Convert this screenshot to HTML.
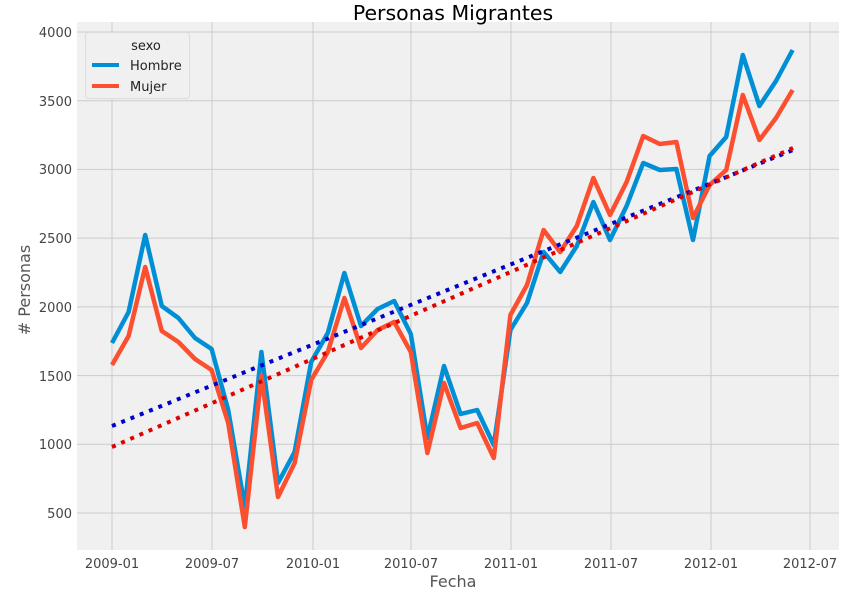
<!DOCTYPE html>
<html><head><meta charset="utf-8"><style>body{margin:0;background:#fff}svg{display:block;font-family:"DejaVu Sans","Liberation Sans",sans-serif}</style></head><body>
<svg width="850" height="595" viewBox="0 0 850 595">
<rect x="0" y="0" width="850" height="595" fill="#fff"/>
<rect x="77" y="22" width="762" height="528" fill="#f0f0f0"/>
<g stroke="#cbcbcb" stroke-width="1">
<line x1="77" x2="839" y1="32" y2="32"/><line x1="77" x2="839" y1="100.7" y2="100.7"/><line x1="77" x2="839" y1="169.4" y2="169.4"/><line x1="77" x2="839" y1="238.1" y2="238.1"/><line x1="77" x2="839" y1="306.9" y2="306.9"/><line x1="77" x2="839" y1="375.6" y2="375.6"/><line x1="77" x2="839" y1="444.3" y2="444.3"/><line x1="77" x2="839" y1="513" y2="513"/>
<line y1="22" y2="550" x1="112" x2="112"/><line y1="22" y2="550" x1="212" x2="212"/><line y1="22" y2="550" x1="313" x2="313"/><line y1="22" y2="550" x1="411" x2="411"/><line y1="22" y2="550" x1="511" x2="511"/><line y1="22" y2="550" x1="611" x2="611"/><line y1="22" y2="550" x1="711" x2="711"/><line y1="22" y2="550" x1="810" x2="810"/>
</g>
<g fill="#444" font-size="13" text-anchor="end">
<text x="72" y="37">4000</text><text x="72" y="106">3500</text><text x="72" y="174">3000</text><text x="72" y="243">2500</text><text x="72" y="312">2000</text><text x="72" y="381">1500</text><text x="72" y="449">1000</text><text x="72" y="518">500</text>
</g>
<g fill="#444" font-size="13" text-anchor="middle">
<text x="112" y="568">2009-01</text><text x="212" y="568">2009-07</text><text x="313" y="568">2010-01</text><text x="411" y="568">2010-07</text><text x="511" y="568">2011-01</text><text x="611" y="568">2011-07</text><text x="711" y="568">2012-01</text><text x="810" y="568">2012-07</text>
</g>
<text x="453" y="587" font-size="16" fill="#555" text-anchor="middle">Fecha</text>
<text transform="translate(30,290) rotate(-90)" font-size="16" fill="#555" text-anchor="middle"># Personas</text>
<text x="453" y="20" font-size="20.5" fill="#000" text-anchor="middle">Personas Migrantes</text>
<polyline fill="none" stroke="#008fd5" stroke-width="4.5" stroke-linejoin="round" points="112,343 128.6,312 145.2,235 161.8,306 178.4,318 195,338 211.6,349 228.2,410 244.8,507 261.4,352 278,483 294.6,452 311.2,362 327.8,333 344.4,273 361,326 377.6,309 394.2,301 410.8,334 427.4,438 444,366 460.6,414 477.2,410 493.8,445 510.4,330 527,303 543.6,252 560.2,272 576.8,246 593.4,202 610,240 626.6,206 643.2,163 659.8,170 676.4,169 693,240 709.6,156 726.2,137 742.8,55 759.4,106 776,81 792.6,50"/>
<polyline fill="none" stroke="#fc4f30" stroke-width="4.5" stroke-linejoin="round" points="112,365 128.6,336 145.2,267 161.8,331 178.4,342 195,359 211.6,370 228.2,423 244.8,527 261.4,376 278,497 294.6,463 311.2,380 327.8,352 344.4,298 361,348 377.6,330 394.2,322 410.8,352 427.4,453 444,383 460.6,428 477.2,423 493.8,458 510.4,315 527,285 543.6,230 560.2,252 576.8,226 593.4,178 610,215 626.6,182 643.2,136 659.8,144 676.4,142 693,218 709.6,185 726.2,170 742.8,95 759.4,140 776,118 792.6,90"/>
<line x1="112" y1="426" x2="793" y2="150" stroke="#0000cc" stroke-width="4" stroke-dasharray="4,6"/>
<line x1="112" y1="447" x2="793" y2="148" stroke="#e00000" stroke-width="4" stroke-dasharray="4,6"/>
<rect x="85.5" y="32.5" width="104" height="66" rx="3" fill="#f0f0f0" stroke="#dcdcdc"/>
<text x="146" y="50" font-size="13" fill="#222" text-anchor="middle">sexo</text>
<line x1="92" x2="119" y1="65" y2="65" stroke="#008fd5" stroke-width="4"/>
<text x="130" y="70" font-size="13" fill="#222">Hombre</text>
<line x1="92" x2="119" y1="86" y2="86" stroke="#fc4f30" stroke-width="4"/>
<text x="130" y="91" font-size="13" fill="#222">Mujer</text>
</svg>
</body></html>
